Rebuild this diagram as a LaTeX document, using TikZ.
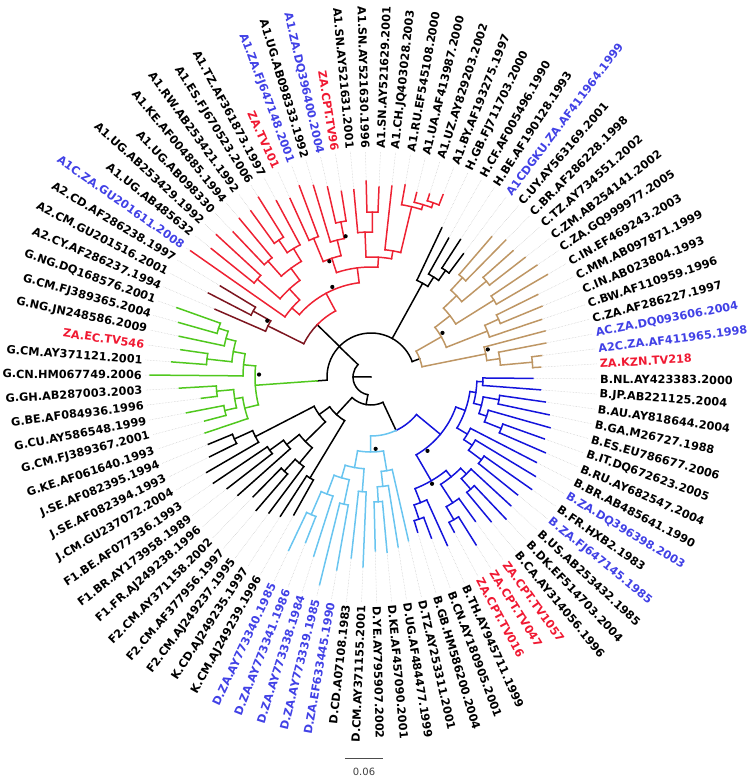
\documentclass[tikz,border=0pt]{standalone}
\usepackage{fontspec}
\setmainfont{DejaVu Sans}
\definecolor{cred}{RGB}{238,34,51}
\definecolor{cdark}{RGB}{125,22,32}
\definecolor{cgreen}{RGB}{80,200,30}
\definecolor{ctan}{RGB}{190,150,100}
\definecolor{cblue}{RGB}{20,20,220}
\definecolor{clblue}{RGB}{105,197,240}
\definecolor{lblue}{RGB}{65,65,230}
\definecolor{lred}{RGB}{240,25,50}
\tikzset{
  brl/.style={line width=1.5pt, line cap=rect},
  ldr/.style={black!22, line width=0.5pt, densely dotted},
  lab/.style={font=\bfseries\fontsize{11.3}{12}\selectfont, inner sep=0pt}
}
\newcommand\rline[4]{\draw[#1] ({-0.5-3.8298*(#2)}:#3pt) -- ({-0.5-3.8298*(#2)}:#4pt);}
\newcommand\rarc[4]{\draw[#1] ({-0.5-3.8298*(#3)}:#2pt) arc[start angle={-0.5-3.8298*(#3)}, end angle={-0.5-3.8298*(#4)}, radius=#2pt];}
\newcommand\inode[6]{\rline{#1}{#4}{#2}{#3}\rarc{#1}{#3}{#5}{#6}}
\newcommand\tipl[4]{\draw[ldr] ({-0.5-3.8298*(#2)}:#4pt) -- ({-0.5-3.8298*(#2)}:226pt);\rline{#1}{#2}{#3}{#4}}
\newcommand\labR[3]{\node[lab,text=#3,anchor=west,rotate={-0.5-3.8298*(#1)}] (L#1) at ({-0.5-3.8298*(#1)}:229pt) {#2};}
\newcommand\labL[3]{\node[lab,text=#3,anchor=east,rotate={179.5-3.8298*(#1)}] (L#1) at ({-0.5-3.8298*(#1)}:229pt) {#2};}
\newcommand\astk[2]{\fill ({-0.5-3.8298*(#1)}:#2pt) circle (2.1pt);}
\begin{document}
\begin{tikzpicture}
\path[use as bounding box] (-371pt,-402pt) rectangle (379pt,377pt);
% ---------- root ----------
\rline{brl,black}{47}{0}{18}
\rarc{brl,black}{18}{26}{58.3}
% L node
\inode{brl,black}{18}{28}{26}{16.8}{34.5}
% BD node
\rline{brl,black}{16.8}{28}{59}
\rarc{brl,cblue}{59}{10.2}{16.8}
\rarc{brl,clblue}{59}{16.8}{23.47}
% ---------- B ----------
\inode{brl,cblue}{59}{90}{10.2}{4.97}{15.5}
\inode{brl,cblue}{90}{100}{4.97}{2.06}{7.875}
\inode{brl,cblue}{100}{106}{2.06}{0.5}{3.625}
\inode{brl,cblue}{106}{112}{0.5}{0}{1}
\tipl{brl,cblue}{0}{112}{162}
\tipl{brl,cblue}{1}{112}{170}
\inode{brl,cblue}{106}{114}{3.625}{2.5}{4.75}
\inode{brl,cblue}{114}{130}{2.5}{2}{3}
\tipl{brl,cblue}{2}{130}{176}
\tipl{brl,cblue}{3}{130}{182}
\inode{brl,cblue}{114}{122}{4.75}{4}{5.5}
\tipl{brl,cblue}{4}{122}{186}
\inode{brl,cblue}{122}{140}{5.5}{5}{6}
\tipl{brl,cblue}{5}{140}{184}
\tipl{brl,cblue}{6}{140}{190}
\inode{brl,cblue}{100}{112}{7.875}{7}{8.75}
\tipl{brl,cblue}{7}{112}{186}
\inode{brl,cblue}{112}{122}{8.75}{8}{9.5}
\tipl{brl,cblue}{8}{122}{192}
\inode{brl,cblue}{122}{138}{9.5}{9}{10}
\tipl{brl,cblue}{9}{138}{196}
\tipl{brl,cblue}{10}{138}{188}
\inode{brl,cblue}{90}{120}{15.5}{13.25}{17.75}
\inode{brl,cblue}{120}{128}{13.25}{11.75}{14.75}
\inode{brl,cblue}{128}{136}{11.75}{11}{12.5}
\tipl{brl,cblue}{11}{136}{190}
\inode{brl,cblue}{136}{150}{12.5}{12}{13}
\tipl{brl,cblue}{12}{150}{196}
\tipl{brl,cblue}{13}{150}{188}
\inode{brl,cblue}{128}{150}{14.75}{14}{15.5}
\tipl{brl,cblue}{14}{150}{178}
\inode{brl,cblue}{150}{165}{15.5}{15}{16}
\tipl{brl,cblue}{15}{165}{198}
\tipl{brl,cblue}{16}{165}{176}
\inode{brl,cblue}{120}{135}{17.75}{17}{18.5}
\tipl{brl,cblue}{17}{135}{185}
\inode{brl,cblue}{135}{150}{18.5}{18}{19}
\tipl{brl,cblue}{18}{150}{172}
\tipl{brl,cblue}{19}{150}{162}
% ---------- D ----------
\inode{brl,clblue}{59}{75}{23.47}{20.875}{26.06}
\inode{brl,clblue}{75}{95}{20.875}{20}{21.75}
\tipl{brl,clblue}{20}{95}{168}
\inode{brl,clblue}{95}{110}{21.75}{21}{22.5}
\tipl{brl,clblue}{21}{110}{172}
\inode{brl,clblue}{110}{125}{22.5}{22}{23}
\tipl{brl,clblue}{22}{125}{176}
\tipl{brl,clblue}{23}{125}{174}
\inode{brl,clblue}{75}{92}{26.06}{24.5}{27.625}
\inode{brl,clblue}{92}{115}{24.5}{24}{25}
\tipl{brl,clblue}{24}{115}{190}
\tipl{brl,clblue}{25}{115}{182}
\inode{brl,clblue}{92}{105}{27.625}{26.5}{28.75}
\inode{brl,clblue}{105}{130}{26.5}{26}{27}
\tipl{brl,clblue}{26}{130}{196}
\tipl{brl,clblue}{27}{130}{214}
\inode{brl,clblue}{105}{125}{28.75}{28}{29.5}
\tipl{brl,clblue}{28}{125}{188}
\inode{brl,clblue}{125}{150}{29.5}{29}{30}
\tipl{brl,clblue}{29}{150}{178}
\tipl{brl,clblue}{30}{150}{192}
% ---------- K F J ----------
\inode{brl,black}{28}{51}{34.5}{31.5}{37.5}
\inode{brl,black}{51}{118}{31.5}{31}{32}
\tipl{brl,black}{31}{118}{158}
\tipl{brl,black}{32}{118}{166}
\inode{brl,black}{51}{64}{37.5}{35.25}{39.75}
\inode{brl,black}{64}{92}{35.25}{33.75}{36.75}
\inode{brl,black}{92}{112}{33.75}{33}{34.5}
\tipl{brl,black}{33}{112}{170}
\inode{brl,black}{112}{128}{34.5}{34}{35}
\tipl{brl,black}{34}{128}{176}
\tipl{brl,black}{35}{128}{168}
\inode{brl,black}{92}{108}{36.75}{36}{37.5}
\tipl{brl,black}{36}{108}{178}
\inode{brl,black}{108}{125}{37.5}{37}{38}
\tipl{brl,black}{37}{125}{182}
\tipl{brl,black}{38}{125}{190}
\inode{brl,black}{64}{130}{39.75}{39}{40.5}
\tipl{brl,black}{39}{130}{190}
\inode{brl,black}{130}{150}{40.5}{40}{41}
\tipl{brl,black}{40}{150}{180}
\tipl{brl,black}{41}{150}{176}
% ---------- U node ----------
\rline{brl,black}{58.3}{18}{44}
\rarc{brl,black}{44}{45.8}{88.5}
% ---------- G ----------
\rline{brl,black}{45.8}{44}{54}
\inode{brl,cgreen}{54}{116}{45.8}{43.25}{48.3}
\inode{brl,cgreen}{116}{130}{43.25}{42}{44.5}
\tipl{brl,cgreen}{42}{130}{175}
\inode{brl,cgreen}{130}{138}{44.5}{43.5}{45.5}
\inode{brl,cgreen}{138}{150}{43.5}{43}{44}
\tipl{brl,cgreen}{43}{150}{172}
\tipl{brl,cgreen}{44}{150}{188}
\inode{brl,cgreen}{138}{155}{45.5}{45}{46}
\tipl{brl,cgreen}{45}{155}{171}
\tipl{brl,cgreen}{46}{155}{192}
\inode{brl,cgreen}{116}{128}{48.3}{47}{49.6}
\tipl{brl,cgreen}{47}{128}{221}
\inode{brl,cgreen}{128}{140}{49.6}{48.5}{50.75}
\inode{brl,cgreen}{140}{165}{48.5}{48}{49}
\tipl{brl,cgreen}{48}{165}{200}
\tipl{brl,cgreen}{49}{165}{192}
\inode{brl,cgreen}{140}{150}{50.75}{50}{51.5}
\tipl{brl,cgreen}{50}{150}{196}
\inode{brl,cgreen}{150}{160}{51.5}{51}{52}
\tipl{brl,cgreen}{51}{160}{200}
\tipl{brl,cgreen}{52}{160}{206}
% ---------- A ----------
\rline{brl,black}{58.4}{44}{75}
\rarc{brl,cdark}{75}{53.75}{58.4}
\rarc{brl,cred}{75}{58.4}{63.0}
\inode{brl,cdark}{75}{115}{53.75}{53}{54.5}
\tipl{brl,cdark}{53}{115}{170}
\inode{brl,cdark}{115}{135}{54.5}{54}{55}
\tipl{brl,cdark}{54}{135}{183}
\tipl{brl,cdark}{55}{135}{176}
\inode{brl,cred}{75}{95}{63.0}{57.6}{68.5}
\inode{brl,cred}{95}{105}{57.6}{56}{59.19}
\tipl{brl,cred}{56}{105}{220}
\inode{brl,cred}{105}{120}{59.19}{57.5}{60.875}
\inode{brl,cred}{120}{150}{57.5}{57}{58}
\tipl{brl,cred}{57}{150}{205}
\tipl{brl,cred}{58}{150}{210}
\inode{brl,cred}{120}{135}{60.875}{59.5}{62.25}
\inode{brl,cred}{135}{155}{59.5}{59}{60}
\tipl{brl,cred}{59}{155}{200}
\tipl{brl,cred}{60}{155}{206}
\inode{brl,cred}{135}{150}{62.25}{61.5}{63}
\tipl{brl,cred}{63}{150}{200}
\inode{brl,cred}{150}{165}{61.5}{61}{62}
\tipl{brl,cred}{61}{165}{205}
\tipl{brl,cred}{62}{165}{212}
\inode{brl,cred}{95}{110}{68.5}{65.6}{71.3}
\inode{brl,cred}{110}{125}{65.6}{64.5}{66.75}
\inode{brl,cred}{125}{150}{64.5}{64}{65}
\tipl{brl,cred}{64}{150}{196}
\tipl{brl,cred}{65}{150}{204}
\inode{brl,cred}{125}{141}{66.75}{66}{67.5}
\tipl{brl,cred}{66}{141}{200}
\inode{brl,cred}{141}{158}{67.5}{67}{68}
\tipl{brl,cred}{67}{158}{195}
\tipl{brl,cred}{68}{158}{188}
\inode{brl,cred}{110}{120}{71.3}{69.75}{72.94}
\inode{brl,cred}{120}{145}{69.75}{69}{70.5}
\tipl{brl,cred}{69}{145}{188}
\inode{brl,cred}{145}{165}{70.5}{70}{71}
\tipl{brl,cred}{70}{165}{196}
\tipl{brl,cred}{71}{165}{190}
\inode{brl,cred}{120}{128}{72.94}{72}{73.875}
\tipl{brl,cred}{72}{128}{192}
\inode{brl,cred}{128}{175}{73.875}{73}{74.75}
\tipl{brl,cred}{73}{175}{195}
\inode{brl,cred}{175}{180}{74.75}{74}{75.5}
\tipl{brl,cred}{74}{180}{190}
\inode{brl,cred}{180}{185}{75.5}{75}{76}
\tipl{brl,cred}{75}{185}{192}
\tipl{brl,cred}{76}{185}{196}
% ---------- H ----------
\inode{brl,black}{44}{107}{77.9}{77}{78.75}
\tipl{brl,black}{77}{107}{165}
\inode{brl,black}{107}{118}{78.75}{78}{79.5}
\tipl{brl,black}{78}{118}{159}
\inode{brl,black}{118}{130}{79.5}{79}{80}
\tipl{brl,black}{79}{130}{164}
\tipl{brl,black}{80}{130}{154}
% ---------- C ----------
\rline{brl,black}{88.5}{44}{52}
\rarc{brl,ctan}{52}{86.1}{90.9}
\inode{brl,ctan}{52}{81}{86.1}{84}{88.25}
\inode{brl,ctan}{81}{100}{84}{82.5}{85.5}
\inode{brl,ctan}{100}{118}{82.5}{81.5}{83.5}
\inode{brl,ctan}{118}{135}{81.5}{81}{82}
\tipl{brl,ctan}{81}{135}{185}
\tipl{brl,ctan}{82}{135}{192}
\inode{brl,ctan}{118}{150}{83.5}{83}{84}
\tipl{brl,ctan}{83}{150}{190}
\tipl{brl,ctan}{84}{150}{195}
\inode{brl,ctan}{100}{145}{85.5}{85}{86}
\tipl{brl,ctan}{85}{145}{200}
\tipl{brl,ctan}{86}{145}{204}
\inode{brl,ctan}{81}{125}{88.25}{87.5}{89}
\tipl{brl,ctan}{89}{125}{180}
\inode{brl,ctan}{125}{140}{87.5}{87}{88}
\tipl{brl,ctan}{87}{140}{186}
\tipl{brl,ctan}{88}{140}{185}
\inode{brl,ctan}{52}{117}{90.9}{90}{91.75}
\tipl{brl,ctan}{90}{117}{180}
\inode{brl,ctan}{117}{130}{91.75}{91}{92.5}
\tipl{brl,ctan}{91}{130}{178}
\inode{brl,ctan}{130}{162}{92.5}{92}{93}
\tipl{brl,ctan}{92}{162}{172}
\tipl{brl,ctan}{93}{162}{170}
% ---------- support marks ----------
\astk{13.6}{93}
\astk{15.6}{123}
\astk{22.4}{72}
\astk{47.2}{112}
\astk{54.3}{118}
\astk{64.3}{98}
\astk{65.2}{123}
\astk{67.7}{143}
\astk{85.6}{84}
\astk{90.4}{120}
% ---------- labels ----------
\labR{0}{B.NL.AY423383.2000}{black}
\labR{1}{B.JP.AB221125.2004}{black}
\labR{2}{B.AU.AY818644.2004}{black}
\labR{3}{B.GA.M26727.1988}{black}
\labR{4}{B.ES.EU786677.2006}{black}
\labR{5}{B.IT.DQ672623.2005}{black}
\labR{6}{B.RU.AY682547.2004}{black}
\labR{7}{B.BR.AB485641.1990}{black}
\labR{8}{B.ZA.DQ396398.2003}{lblue}
\labR{9}{B.FR.HXB2.1983}{black}
\labR{10}{B.ZA.FJ647145.1985}{lblue}
\labR{11}{B.US.AB253432.1985}{black}
\labR{12}{B.DK.EF514703.2004}{black}
\labR{13}{B.CA.AY314056.1996}{black}
\labR{14}{ZA.CPT.TV1057}{lred}
\labR{15}{ZA.CPT.TV047}{lred}
\labR{16}{ZA.CPT.TV016}{lred}
\labR{17}{B.TH.AY945711.1999}{black}
\labR{18}{B.CN.AY180905.2001}{black}
\labR{19}{B.GB.HM586200.2004}{black}
\labR{20}{D.TZ.AY253311.2001}{black}
\labR{21}{D.UG.AF484477.1999}{black}
\labR{22}{D.KE.AF457090.2001}{black}
\labR{23}{D.YE.AY795907.2002}{black}
\labL{24}{D.CM.AY371155.2001}{black}
\labL{25}{D.CD.A07108.1983}{black}
\labL{26}{D.ZA.EF633445.1990}{lblue}
\labL{27}{D.ZA.AY773339.1985}{lblue}
\labL{28}{D.ZA.AY773338.1984}{lblue}
\labL{29}{D.ZA.AY773341.1986}{lblue}
\labL{30}{D.ZA.AY773340.1985}{lblue}
\labL{31}{K.CM.AJ249239.1996}{black}
\labL{32}{K.CD.AJ249235.1997}{black}
\labL{33}{F2.CM.AJ249237.1995}{black}
\labL{34}{F2.CM.AF377956.1997}{black}
\labL{35}{F2.CM.AY371158.2002}{black}
\labL{36}{F1.FR.AJ249238.1996}{black}
\labL{37}{F1.BR.AY173958.1989}{black}
\labL{38}{F1.BE.AF077336.1993}{black}
\labL{39}{J.CM.GU237072.2004}{black}
\labL{40}{J.SE.AF082394.1993}{black}
\labL{41}{J.SE.AF082395.1994}{black}
\labL{42}{G.KE.AF061640.1993}{black}
\labL{43}{G.CM.FJ389367.2001}{black}
\labL{44}{G.CU.AY586548.1999}{black}
\labL{45}{G.BE.AF084936.1996}{black}
\labL{46}{G.GH.AB287003.2003}{black}
\labL{47}{G.CN.HM067749.2006}{black}
\labL{48}{G.CM.AY371121.2001}{black}
\labL{49}{ZA.EC.TV546}{lred}
\labL{50}{G.NG.JN248586.2009}{black}
\labL{51}{G.CM.FJ389365.2004}{black}
\labL{52}{G.NG.DQ168576.2001}{black}
\labL{53}{A2.CY.AF286237.1994}{black}
\labL{54}{A2.CM.GU201516.2001}{black}
\labL{55}{A2.CD.AF286238.1997}{black}
\labL{56}{A1C.ZA.GU201611.2008}{lblue}
\labL{57}{A1.UG.AB485632}{black}
\labL{58}{A1.UG.AB253429.1992}{black}
\labL{59}{A1.UG.AB098330}{black}
\labL{60}{A1.KE.AF004885.1994}{black}
\labL{61}{A1.RW.AB253421.1992}{black}
\labL{62}{A1.ES.FJ670523.2006}{black}
\labL{63}{A1.TZ.AF361873.1997}{black}
\labL{64}{ZA.TV101}{lred}
\labL{65}{A1.ZA.FJ647148.2001}{lblue}
\labL{66}{A1.UG.AB098333.1992}{black}
\labL{67}{A1.ZA.DQ396400.2004}{lblue}
\labL{68}{ZA.CPT.TV96}{lred}
\labL{69}{A1.SN.AY521631.2001}{black}
\labL{70}{A1.SN.AY521630.1996}{black}
\labR{71}{A1.SN.AY521629.2001}{black}
\labR{72}{A1.CH.JQ403028.2003}{black}
\labR{73}{A1.RU.EF545108.2000}{black}
\labR{74}{A1.UA.AF413987.2000}{black}
\labR{75}{A1.UZ.AY829203.2002}{black}
\labR{76}{A1.BY.AF193275.1997}{black}
\labR{77}{H.GB.FJ711703.2000}{black}
\labR{78}{H.CF.AF005496.1990}{black}
\labR{79}{H.BE.AF190128.1993}{black}
\labR{80}{A1CDGKU.ZA.AF411964.1999}{lblue}
\labR{81}{C.UY.AY563169.2001}{black}
\labR{82}{C.BR.AF286228.1998}{black}
\labR{83}{C.TZ.AY734551.2002}{black}
\labR{84}{C.ZM.AB254141.2002}{black}
\labR{85}{C.ZA.GQ999977.2005}{black}
\labR{86}{C.IN.EF469243.2003}{black}
\labR{87}{C.MM.AB097871.1999}{black}
\labR{88}{C.IN.AB023804.1993}{black}
\labR{89}{C.BW.AF110959.1996}{black}
\labR{90}{C.ZA.AF286227.1997}{black}
\labR{91}{AC.ZA.DQ093606.2004}{lblue}
\labR{92}{A2C.ZA.AF411965.1998}{lblue}
\labR{93}{ZA.KZN.TV218}{lred}
% ---------- scale bar ----------
\coordinate (sbA) at (-26pt,-381pt);
\coordinate (sbB) at (12pt,-381pt);
\draw[line width=0.8pt, black!70] (sbA) -- (sbB);
\node[font=\fontsize{10}{12}\selectfont, text=black!75, inner sep=0pt] (sbl) at (-7pt,-395pt) {0.06};
\end{tikzpicture}
\end{document}
